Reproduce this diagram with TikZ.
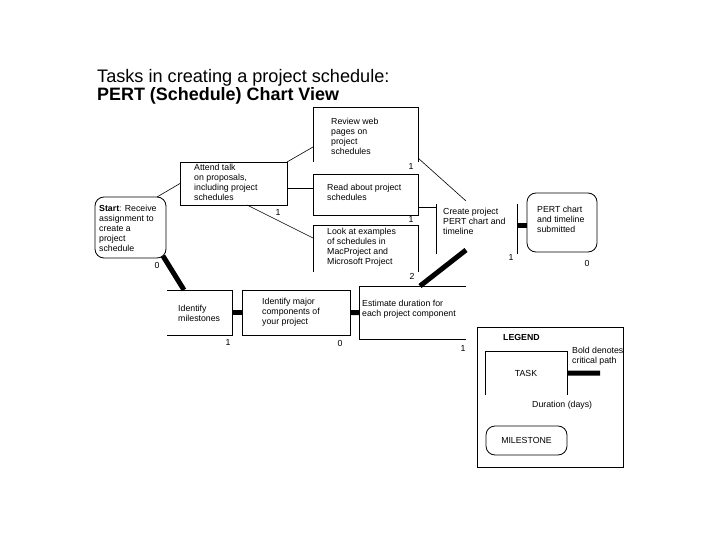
\documentclass[tikz,border=0pt]{standalone}
\usepackage{fontspec}
\setmainfont{Liberation Sans}
\usetikzlibrary{calc}
\begin{document}
\begin{tikzpicture}[x=1bp,y=-1bp,
  frame/.style={inner sep=0pt, outer sep=0pt, anchor=north west},
  full/.style={frame, draw, line width=0.8bp},
  rnd/.style={frame, draw, line width=0.8bp, rounded corners=9bp},
  edge/.style={line width=0.8bp},
  txt/.style={inner sep=0pt, anchor=north west, align=left, font=\fontsize{8.8}{10}\selectfont},
  ctxt/.style={inner sep=0pt, font=\fontsize{8.8}{10}\selectfont},
  num/.style={inner sep=0pt, font=\fontsize{8.8}{10}\selectfont},
  thinline/.style={line width=0.6bp},
  crit/.style={line width=5bp}
]
\fill[white] (0,0) rectangle (720,540);
\useasboundingbox (0,0) rectangle (720,540);

% title
\node[inner sep=0pt, anchor=base west, font=\fontsize{18.2}{20}\selectfont] (title1) at (97,83) {Tasks in creating a project schedule:};
\node[inner sep=0pt, anchor=base west, font=\fontsize{18}{20}\selectfont\bfseries] (title2) at (97,101) {PERT (Schedule) Chart View};

% boxes
\node[frame, minimum width=105bp, minimum height=55bp] (rev) at (313,107) {};
\draw[edge] (rev.south west) -- (rev.north west) -- (rev.north east) -- (rev.south east);
\node[full, minimum width=105bp, minimum height=41bp] (read) at (313,174) {};
\node[frame, minimum width=105bp, minimum height=47bp] (look) at (313,225) {};
\draw[edge] (look.south west) -- (look.north west) -- (look.north east) -- (look.south east);
\node[full, minimum width=107bp, minimum height=43bp] (att) at (180,162) {};
\node[rnd, minimum width=71bp, minimum height=61bp] (start) at (95,197) {};
\node[frame, minimum width=65bp, minimum height=45bp] (idm) at (167,290) {};
\draw[edge] (idm.north west) -- (idm.north east) -- (idm.south east) -- (idm.south west);
\node[full, minimum width=108bp, minimum height=45bp] (idc) at (242,290) {};
\node[frame, minimum width=107bp, minimum height=53bp] (est) at (359,286) {};
\draw[edge] (est.north east) -- (est.north west) -- (est.south west) -- (est.south east);
\node[frame, minimum width=81bp, minimum height=50bp] (cre) at (436,204) {};
\draw[edge] (cre.north west) -- (cre.south west);
\draw[edge] (cre.north east) -- (cre.south east);
\node[rnd, minimum width=70bp, minimum height=59bp] (pert) at (527,193) {};

% texts
\node[txt] (revt) at (331,118) {Review web\\pages on\\project\\schedules};
\node[txt] (readt) at (327,184) {Read about project\\schedules};
\node[txt] (lookt) at (327,228) {Look at examples\\of schedules in\\MacProject and\\Microsoft Project};
\node[txt] (attt) at (194,164) {Attend talk\\on proposals,\\including project\\schedules};
\node[txt] (startt) at (99,205) {\textbf{Start}: Receive\\assignment to\\create a\\project\\schedule};
\node[txt] (idmt) at (178,305) {Identify\\milestones};
\node[txt] (idct) at (262,298) {Identify major\\components of\\your project};
\node[txt] (estt) at (362,300) {Estimate duration for\\each project component};
\node[txt] (cret) at (443,208) {Create project\\PERT chart and\\timeline};
\node[txt] (pertt) at (537,206) {PERT chart\\and timeline\\submitted};

% durations
\node[num] (d1) at (411,166) {1};
\node[num] (d2) at (411,219) {1};
\node[num] (d3) at (412,276) {2};
\node[num] (d4) at (278,212) {1};
\node[num] (d5) at (157,265) {0};
\node[num] (d6) at (228,342) {1};
\node[num] (d7) at (340,343) {0};
\node[num] (d8) at (463,348) {1};
\node[num] (d9) at (511,257) {1};
\node[num] (d10) at (587,263) {0};

% thin connectors
\draw[thinline] ([xshift=-9bp]start.north east) -- (att.west);
\draw[thinline] (att.north east) -- ([yshift=-12.5bp]rev.west);
\draw[edge] ([yshift=-4.5bp]att.east) -- ([yshift=-4.5bp]att.east -| read.west);
\draw[thinline] ([xshift=13.5bp]att.south) -- ([yshift=10.5bp]look.west);
\draw[thinline] ([yshift=-23.5bp]rev.east) -- ([xshift=-10.5bp,yshift=3bp]cre.north);
\draw[edge] ([yshift=-12.5bp]read.east) -- ([yshift=-12.5bp]read.east -| cre.west);

% critical path
\draw[crit] ([xshift=-3bp,yshift=2bp]start.south east) -- ([xshift=-15.5bp]idm.north);
\draw[crit] (idm.east) -- (idc.west);
\draw[crit] (idc.east) -- (est.west);
\draw[crit] ([xshift=7.5bp]est.north) -- ([xshift=-10.5bp,yshift=4bp]cre.south);
\draw[crit] ([yshift=3bp]cre.east) -- ([yshift=3bp]cre.east -| pert.west);

% legend
\node[full, minimum width=146bp, minimum height=140bp] (leg) at (477,327) {};
\node[inner sep=0pt, anchor=base west, font=\fontsize{8.8}{10}\selectfont\bfseries] (legt) at (503,340) {LEGEND};
\node[frame, minimum width=82bp, minimum height=44bp] (task) at (485,351) {};
\draw[edge] (task.south west) -- (task.north west) -- (task.north east) -- (task.south east);
\node[ctxt] (taskt) at (task.center) {TASK};
\coordinate (legend end) at (600,373);
\draw[crit] (task.east) -- (legend end);
\node[txt] (boldt) at (572,347) {Bold denotes\\critical path};
\node[ctxt, anchor=west] (durt) at (532,405) {Duration (days)};
\node[rnd, minimum width=81bp, minimum height=29bp] (mile) at (486,426) {};
\node[ctxt] (milet) at (mile.center) {MILESTONE};
\end{tikzpicture}
\end{document}
